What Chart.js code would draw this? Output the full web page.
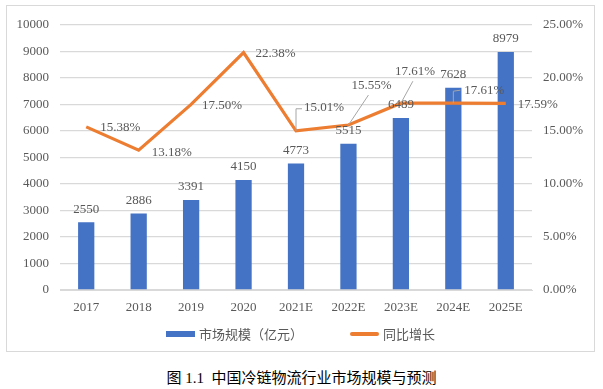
<!DOCTYPE html>
<html>
<head>
<meta charset="utf-8">
<script src="https://cdn.jsdelivr.net/npm/chart.js@4/dist/chart.umd.min.js"></script>
<style>
    body { margin: 0; background: #fff; width: 603px; height: 389px; position: relative; overflow: hidden; }
    #box { position: absolute; left: 6px; top: 5px; width: 589px; height: 347px; border: 1px solid #D9D9D9; box-sizing: border-box; }
    #caption { position: absolute; left: 0; width: 603px; top: 366px; text-align: center; font: 15px "Liberation Serif", "Noto Sans CJK SC", serif; color: #000; }
</style>
</head>
<body>
<div id="box"><canvas id="myChart" width="587" height="345"></canvas></div>
<div id="caption">图 1.1&nbsp; 中国冷链物流行业市场规模与预测</div>
<script>
// Data
const categories = ['2017', '2018', '2019', '2020', '2021E', '2022E', '2023E', '2024E', '2025E'];
const marketSize = [2550, 2886, 3391, 4150, 4773, 5515, 6489, 7628, 8979];
const growthRate = [15.38, 13.18, 17.50, 22.38, 15.01, 15.55, 17.61, 17.61, 17.59];
const leftTicks = [0, 1000, 2000, 3000, 4000, 5000, 6000, 7000, 8000, 9000, 10000];
const rightTicks = [0, 5, 10, 15, 20, 25];

const serif = '"Liberation Serif", "Times New Roman", serif';
const sans = '"Noto Sans CJK SC", sans-serif';
const labelColor = '#595959';
const barColor = '#4472C4';
const lineColor = '#ED7D31';

// posisi label persentase (dx, dy dari titik) + leader line
const lineLabelPos = [
    { dx: 14, dy: 1 },
    { dx: 13, dy: 2 },
    { dx: 11, dy: 1 },
    { dx: 12, dy: 1 },
    { dx: 8, dy: -23, leader: [[0, -22], [6, -22]] },
    { dx: 3, dy: -39, leader: [[20, -30]] },
    { dx: -6, dy: -32, leader: [[12, -22]] },
    { dx: 11, dy: -13, leader: [[0, -12], [7, -13]] },
    { dx: 12, dy: 1 }
];

const dataLabels = {
    id: 'dataLabels',
    afterDatasetsDraw(chart) {
        const ctx = chart.ctx;
        ctx.save();
        ctx.font = '13px ' + serif;
        ctx.fillStyle = labelColor;

        // label bar
        chart.getDatasetMeta(0).data.forEach((bar, i) => {
            ctx.textAlign = 'center';
            ctx.textBaseline = 'middle';
            ctx.fillText(marketSize[i], bar.x, bar.y - 13);
        });

        // label garis
        chart.getDatasetMeta(1).data.forEach((pt, i) => {
            const p = lineLabelPos[i];
            if (p.leader) {
                ctx.strokeStyle = '#A6A6A6';
                ctx.lineWidth = 1;
                ctx.beginPath();
                ctx.moveTo(pt.x, pt.y);
                p.leader.forEach(q => ctx.lineTo(pt.x + q[0], pt.y + q[1]));
                ctx.stroke();
            }
            ctx.textAlign = 'left';
            ctx.textBaseline = 'middle';
            ctx.fillText(growthRate[i].toFixed(2) + '%', pt.x + p.dx, pt.y + p.dy);
        });
        ctx.restore();
    }
};

// legend manual biar jaraknya mirip aslinya
const customLegend = {
    id: 'customLegend',
    afterDraw(chart) {
        const ctx = chart.ctx;
        const items = chart.data.datasets.map(ds => ({ text: ds.label, color: ds.borderColor || ds.backgroundColor, line: ds.type === 'line' }));
        ctx.save();
        ctx.font = '13px ' + sans;
        const boxW = 29, gapBox = 4, gapItem = 47;
        let total = 0;
        items.forEach((it, i) => {
            it.w = ctx.measureText(it.text).width;
            total += boxW + gapBox + it.w + (i > 0 ? gapItem : 0);
        });
        let x = chart.width / 2 - total / 2;
        const y = 328;
        items.forEach(it => {
            ctx.fillStyle = it.color;
            if (it.line) {
                ctx.strokeStyle = it.color;
                ctx.lineWidth = 4;
                ctx.lineCap = 'round';
                ctx.beginPath();
                ctx.moveTo(x + 2, y);
                ctx.lineTo(x + boxW - 2, y);
                ctx.stroke();
            } else {
                ctx.fillRect(x, y - 3, boxW, 6);
            }
            x += boxW + gapBox;
            ctx.fillStyle = labelColor;
            ctx.textAlign = 'left';
            ctx.textBaseline = 'middle';
            ctx.fillText(it.text, x, y);
            x += it.w + gapItem;
        });
        ctx.restore();
    }
};

function chart() {
    const ctx = document.getElementById('myChart').getContext('2d');
    new Chart(ctx, {
        type: 'bar',
        data: {
            labels: categories,
            datasets: [
                {
                    label: '市场规模（亿元）',
                    data: marketSize,
                    backgroundColor: barColor,
                    borderWidth: 0,
                    yAxisID: 'y',
                    order: 2,
                    categoryPercentage: 1,
                    barPercentage: 0.31
                },
                {
                    label: '同比增长',
                    type: 'line',
                    data: growthRate,
                    borderColor: lineColor,
                    backgroundColor: lineColor,
                    borderWidth: 3.2,
                    pointRadius: 0,
                    tension: 0,
                    yAxisID: 'y1',
                    order: 1
                }
            ]
        },
        options: {
            responsive: false,
            animation: false,
            layout: { padding: { top: 16, bottom: 33 } },
            scales: {
                x: {
                    grid: { display: false },
                    border: { color: '#D9D9D9' },
                    afterFit: s => { s.height = 28; },
                    ticks: { color: labelColor, font: { family: serif, size: 13 }, padding: 2, maxRotation: 0 }
                },
                y: {
                    position: 'left',
                    min: 0,
                    max: 10000,
                    afterBuildTicks: s => { s.ticks = leftTicks.map(v => ({ value: v })); },
                    afterFit: s => { s.width = 53; },
                    grid: { color: '#D9D9D9', lineWidth: 1.3, drawTicks: false },
                    border: { display: false },
                    ticks: { color: labelColor, font: { family: serif, size: 13 }, padding: 11, callback: v => String(v) }
                },
                y1: {
                    position: 'right',
                    min: 0,
                    max: 25,
                    afterBuildTicks: s => { s.ticks = rightTicks.map(v => ({ value: v })); },
                    afterFit: s => { s.width = 62; },
                    grid: { display: false, drawTicks: false },
                    border: { display: false },
                    ticks: {
                        color: labelColor,
                        font: { family: serif, size: 13 },
                        padding: 11,
                        callback: v => v.toFixed(2) + '%'
                    }
                }
            },
            plugins: {
                legend: { display: false },
                tooltip: { enabled: false }
            }
        },
        plugins: [dataLabels, customLegend]
    });
}

window.addEventListener('load', function () {
    chart();
});
</script>
</body>
</html>
